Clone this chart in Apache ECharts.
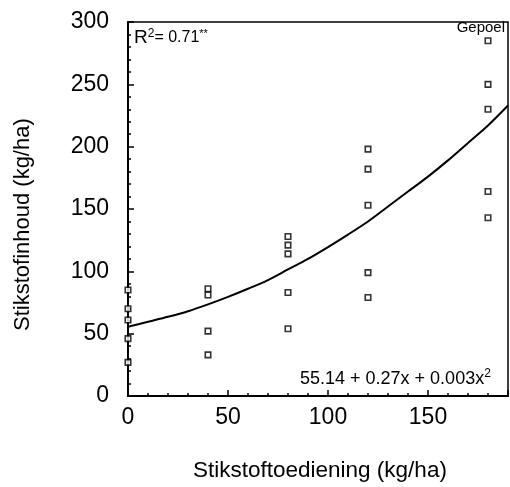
<!DOCTYPE html>
<html>
<head>
<meta charset="utf-8">
<script src="https://cdn.jsdelivr.net/npm/echarts@6/dist/echarts.min.js"></script>
<style>html,body{margin:0;padding:0;background:#fff}#c{width:510px;height:487px}</style>
</head>
<body>
<div id="c"></div>
<script>
// Data
const doseX = [0,0,0,0,0, 40,40,40,40, 80,80,80,80,80, 120,120,120,120,120, 180,180,180,180,180];
const nContent = [85,70,61,46,27, 86,81,52,33, 128,121,114,83,54, 198,182,153,99,79, 285,250,230,164,143];
// fitted curve
const curveX = [0,10,20,30,40,50,60,70,80,90,100,110,120,130,140,150,160,170,180,190];
const curveY = [55.5,59.5,63.5,68,73.5,79.5,86,93,101.5,110,119.5,129.5,140,152,164,176,189,203,217,233];
const xTicks = [0,50,100,150];
const yTicks = [0,50,100,150,200,250,300];

const font = '"Liberation Sans", Arial, sans-serif';
const chart = echarts.init(document.getElementById('c'), null, {renderer:'canvas'});
const scatterData = doseX.map((x,i)=>[x, nContent[i]]);
const lineData = curveX.map((x,i)=>[x, curveY[i]]);

chart.setOption({
  animation:false,
  backgroundColor:'#fff',
  grid:{left:128, top:22, right:2, bottom:91, show:true, borderColor:'#000', borderWidth:1.5, containLabel:false},
  xAxis:{
    type:'value', min:0, max:190, interval:50,
    axisLine:{show:true, onZero:false, lineStyle:{color:'#000', width:2}},
    axisTick:{show:true, inside:true, length:6, lineStyle:{color:'#000', width:1.5}},
    minorTick:{show:true, splitNumber:5, length:3, lineStyle:{color:'#000', width:1.5}},
    splitLine:{show:false},
    axisLabel:{color:'#000', fontSize:23, fontFamily:font, margin:10, showMaxLabel:false,
      formatter:v=> xTicks.includes(v) ? String(v) : ''}
  },
  yAxis:{
    type:'value', min:0, max:300, interval:50,
    axisLine:{show:true, lineStyle:{color:'#000', width:2}},
    axisTick:{show:true, inside:true, length:6, lineStyle:{color:'#000', width:1.5}},
    minorTick:{show:true, splitNumber:5, length:3, lineStyle:{color:'#000', width:1.5}},
    splitLine:{show:false},
    axisLabel:{color:'#000', fontSize:23, fontFamily:font, margin:19,
      formatter:v=> yTicks.includes(v) ? String(v) : ''}
  },
  series:[
    {type:'line', data:lineData, smooth:0.3, showSymbol:false, symbol:'none',
     lineStyle:{color:'#000', width:2}, z:2},
    {type:'scatter', data:scatterData, symbol:'rect', symbolSize:5.5,
     itemStyle:{color:'#fff', borderColor:'#000', borderWidth:1.6}, z:3}
  ],
  graphic:[
    {type:'text', left:134, top:28, style:{
      text:'{r|R}{s|2}{n|= 0.71}{t|**}', fontFamily:font, fill:'#000',
      rich:{
        r:{fontSize:19, fontFamily:font, fill:'#000', verticalAlign:'bottom'},
        s:{fontSize:12, fontFamily:font, fill:'#000', verticalAlign:'top', padding:[0,0,7,0]},
        n:{fontSize:16, fontFamily:font, fill:'#000'},
        t:{fontSize:11, fontFamily:font, fill:'#000', verticalAlign:'top', padding:[0,0,7,0]}
      }}},
    {type:'text', right:5, top:20, style:{text:'Gepoel', fontSize:15, fontFamily:font, fill:'#000'}},
    {type:'text', left:300, top:368, style:{
      text:'{a|55.14 + 0.27x + 0.003x}{s|2}', fontFamily:font, fill:'#000',
      rich:{
        a:{fontSize:18, fontFamily:font, fill:'#000'},
        s:{fontSize:12, fontFamily:font, fill:'#000', padding:[0,0,10,0]}
      }}},
    {type:'text', x:193, y:459, style:{text:'Stikstoftoediening (kg/ha)', fontSize:22.5, fontFamily:font, fill:'#000'}},
    {type:'text', x:12, y:331, rotation:Math.PI/2, style:{text:'Stikstofinhoud (kg/ha)', fontSize:22, fontFamily:font, fill:'#000'}}
  ]
});
</script>
</body>
</html>
